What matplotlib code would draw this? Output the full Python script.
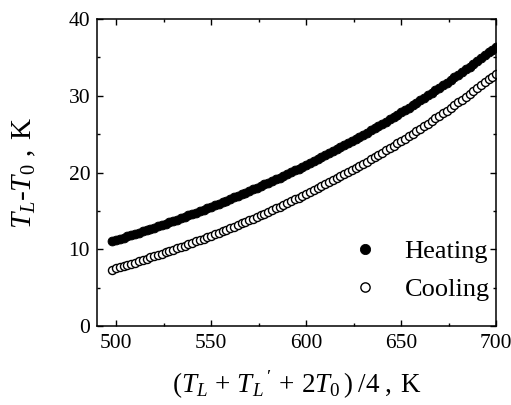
import matplotlib
matplotlib.use("Agg")
import matplotlib.pyplot as plt
from matplotlib.ticker import MultipleLocator

plt.rcParams['font.family'] = ['Liberation Serif', 'DejaVu Serif']
plt.rcParams['mathtext.fontset'] = 'custom'
plt.rcParams['mathtext.rm'] = 'Liberation Serif'
plt.rcParams['mathtext.it'] = 'Liberation Serif:italic'
plt.rcParams['mathtext.bf'] = 'Liberation Serif:bold'

# mean temperature (T_L + T_L' + 2T_0)/4, K
x_mean = [498, 500, 502, 504, 506, 508, 510, 512, 514, 516, 518, 520, 522, 524, 526, 528,
          530, 532, 534, 536, 538, 540, 542, 544, 546, 548, 550, 552, 554, 556, 558, 560,
          562, 564, 566, 568, 570, 572, 574, 576, 578, 580, 582, 584, 586, 588, 590, 592,
          594, 596, 598, 600, 602, 604, 606, 608, 610, 612, 614, 616, 618, 620, 622, 624,
          626, 628, 630, 632, 634, 636, 638, 640, 642, 644, 646, 648, 650, 652, 654, 656,
          658, 660, 662, 664, 666, 668, 670, 672, 674, 676, 678, 680, 682, 684, 686, 688,
          690, 692, 694, 696, 698, 700]

# T_L - T_0 for heating, K
heating = [11.05, 11.20, 11.36, 11.52, 11.67, 11.83, 11.99, 12.16, 12.32, 12.49, 12.65, 12.82,
           12.99, 13.17, 13.34, 13.52, 13.69, 13.87, 14.05, 14.24, 14.42, 14.60, 14.79, 14.98,
           15.17, 15.36, 15.55, 15.75, 15.95, 16.14, 16.34, 16.54, 16.75, 16.96, 17.16, 17.37,
           17.58, 17.80, 18.02, 18.23, 18.45, 18.67, 18.90, 19.13, 19.35, 19.58, 19.81, 20.05,
           20.29, 20.52, 20.76, 21.00, 21.25, 21.50, 21.75, 22.00, 22.25, 22.51, 22.77, 23.03,
           23.29, 23.55, 23.82, 24.10, 24.37, 24.64, 24.91, 25.20, 25.48, 25.77, 26.05, 26.34,
           26.64, 26.94, 27.23, 27.53, 27.83, 28.14, 28.46, 28.77, 29.09, 29.40, 29.73, 30.05,
           30.38, 30.70, 31.03, 31.37, 31.71, 32.06, 32.40, 32.74, 33.10, 33.46, 33.81, 34.17,
           34.53, 34.90, 35.28, 35.65, 36.03, 36.40]

# T_L - T_0 for cooling, K
cooling = [7.35, 7.50, 7.65, 7.81, 7.96, 8.12, 8.27, 8.43, 8.60, 8.76, 8.93, 9.09,
           9.26, 9.43, 9.60, 9.77, 9.94, 10.12, 10.30, 10.47, 10.65, 10.83, 11.02, 11.21,
           11.39, 11.58, 11.77, 11.97, 12.16, 12.36, 12.55, 12.75, 12.96, 13.17, 13.37, 13.58,
           13.79, 14.01, 14.22, 14.44, 14.65, 14.87, 15.10, 15.33, 15.55, 15.78, 16.01, 16.25,
           16.49, 16.72, 16.96, 17.20, 17.45, 17.70, 17.95, 18.20, 18.45, 18.71, 18.98, 19.24,
           19.51, 19.77, 20.04, 20.32, 20.59, 20.87, 21.14, 21.43, 21.72, 22.01, 22.30, 22.59,
           22.89, 23.20, 23.50, 23.81, 24.11, 24.43, 24.75, 25.06, 25.38, 25.70, 26.04, 26.37,
           26.71, 27.04, 27.38, 27.73, 28.08, 28.43, 28.78, 29.13, 29.50, 29.87, 30.23, 30.60,
           30.97, 31.36, 31.74, 32.13, 32.51, 32.90]

series_labels = ["Heating", "Cooling"]
x_ticks = [500, 550, 600, 650, 700]
y_ticks = [0, 10, 20, 30, 40]

fig = plt.figure(figsize=(5.11, 4.05), dpi=100)
ax = fig.add_axes([0.190, 0.195, 0.781, 0.758])

ax.plot(x_mean, heating, linestyle='none', marker='o', ms=6.4,
        mfc='black', mec='black', mew=0.6, label=series_labels[0])
ax.plot(x_mean, cooling, linestyle='none', marker='o', ms=5.8,
        mfc='white', mec='black', mew=1.0, label=series_labels[1])

ax.set_xlim(490, 700)
ax.set_ylim(0, 40)
ax.set_xticks(x_ticks)
ax.set_yticks(y_ticks)
ax.xaxis.set_minor_locator(MultipleLocator(25))
ax.yaxis.set_minor_locator(MultipleLocator(5))
ax.tick_params(which='both', direction='in', top=True, right=True, width=1.0)
ax.tick_params(which='major', length=4.5, labelsize=15.5)
ax.tick_params(axis='x', which='major', pad=6)
ax.tick_params(axis='y', which='major', pad=5)
ax.tick_params(which='minor', length=2.5)
for sp in ax.spines.values():
    sp.set_linewidth(1.1)

ax.set_xlabel(r"$(T_{L}\,+\,T_{L}\,'\,+\,2T_{0}\,)\;/4\;,\;\mathrm{K}$", fontsize=19.5, labelpad=11)
ax.set_ylabel(r"$T_{L}$-$T_{0}$ $,\;\mathrm{K}$", fontsize=21, labelpad=22)

leg = ax.legend(loc='lower right', bbox_to_anchor=(1.03, 0.02), frameon=False,
                fontsize=19, handlelength=2.0, handletextpad=0.5, labelspacing=0.55,
                markerscale=1.15, numpoints=1, borderpad=0.2)

fig.savefig("out.png", dpi=100)
